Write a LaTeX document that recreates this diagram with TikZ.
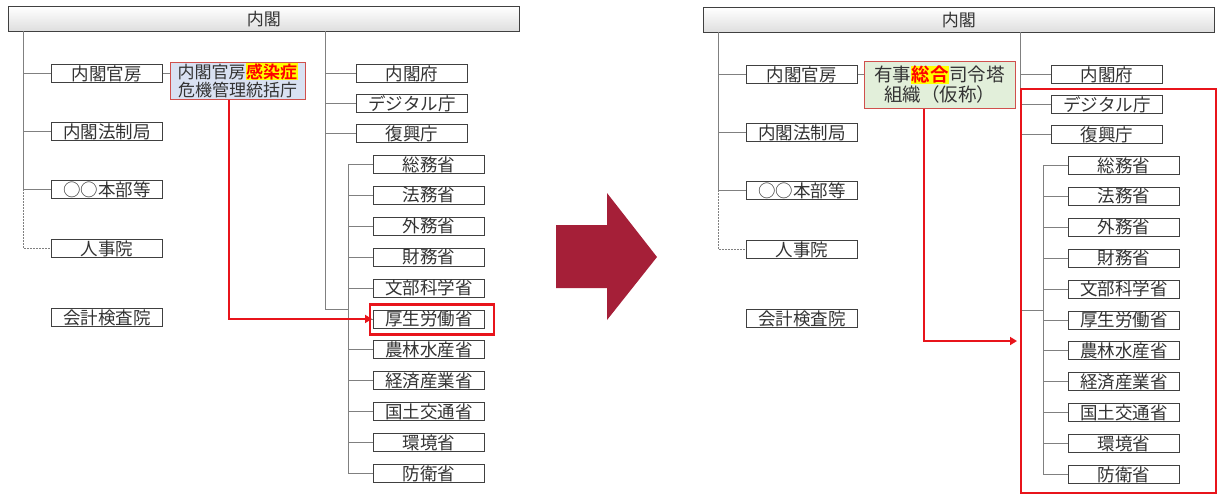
\documentclass[tikz,border=0pt]{standalone}
\usepackage{fontspec}
\setmainfont{Noto Sans CJK JP}[BoldFont={Noto Sans CJK JP Bold}]
\usetikzlibrary{arrows.meta}
\definecolor{boxline}{HTML}{404040}
\definecolor{connline}{HTML}{808080}
\definecolor{txt}{HTML}{333333}
\definecolor{bigarrow}{HTML}{A51F38}
\definecolor{hlred}{HTML}{FF0000}
\definecolor{hlyellow}{HTML}{FFFF00}
\definecolor{bluefill}{HTML}{D9E1F2}
\definecolor{greenfill}{HTML}{E2EFDA}
\definecolor{pinkline}{HTML}{D0504D}
\definecolor{redline}{HTML}{E8141B}
\newcommand{\hlword}[1]{{\setlength{\fboxsep}{0.5pt}\colorbox{hlyellow}{\textcolor{hlred}{\bfseries #1}}}}
\tikzset{
  orgbox/.style={draw=boxline, line width=0.9pt, fill=white, minimum width=111pt,
    minimum height=18pt, inner sep=0pt, text=txt, anchor=north west,
    font=\fontsize{17.5}{17.5}\selectfont},
  topbar/.style={draw=boxline, line width=0.9pt, top color=white, bottom color=black!13,
    minimum width=511pt, minimum height=25pt, inner sep=0pt, text=txt, anchor=north west,
    font=\fontsize{17}{17}\selectfont},
  conn/.style={draw=connline, line width=0.8pt},
  dotconn/.style={draw=connline, line width=0.8pt, dash pattern=on 1.5pt off 1.5pt},
  redarrow/.style={draw=redline, line width=2.5pt, -{Triangle[length=7pt,width=8pt]}},
  redhl/.style={draw=redline, line width=2.5pt},
  centerbox/.style={draw=pinkline, line width=1pt, inner sep=0pt, text=txt, align=center},
}
\newcommand{\orgchart}[1]{%
  \node[topbar] (#1top) at (8,6) {内閣};
  \node[orgbox] (#1kanbo) at (51,64) {内閣官房};
  \node[orgbox] (#1hosei) at (51,122) {内閣法制局};
  \node[orgbox] (#1honbu) at (51,180) {○○本部等};
  \node[orgbox] (#1jinji) at (51,239) {人事院};
  \node[orgbox] (#1kaikei) at (51,308) {会計検査院};
  \node[orgbox] (#1fu) at (356,64) {内閣府};
  \node[orgbox] (#1digital) at (356,94) {デジタル庁};
  \node[orgbox] (#1fukko) at (356,124) {復興庁};
  \foreach \n [count=\i from 0] in {総務省,法務省,外務省,財務省,文部科学省,厚生労働省,農林水産省,経済産業省,国土交通省,環境省,防衛省}
    {\node[orgbox] (#1m\i) at (373,{155+30.9*\i}) {\n};}
  \coordinate (#1tl) at (23,31);
  \draw[conn] (#1tl) -- (#1tl |- #1honbu.west) -- (#1honbu.west);
  \draw[conn] (#1tl |- #1kanbo.west) -- (#1kanbo.west);
  \draw[conn] (#1tl |- #1hosei.west) -- (#1hosei.west);
  \draw[dotconn] (#1tl |- #1honbu.west) -- (#1tl |- #1jinji.west) -- (#1jinji.west);
  \coordinate (#1tr) at (325,31);
  \coordinate (#1trb) at (325,309);
  \coordinate (#1mt) at (348,160);
  \draw[conn] (#1tr) -- (#1trb) -- (#1trb -| #1mt);
  \draw[conn] (#1tr |- #1fu.west) -- (#1fu.west);
  \draw[conn] (#1tr |- #1digital.west) -- (#1digital.west);
  \draw[conn] (#1tr |- #1fukko.west) -- (#1fukko.west);
  \draw[conn] (#1mt |- #1m0.west) -- (#1mt |- #1m10.west);
  \foreach \i in {0,...,10} {\draw[conn] (#1mt |- #1m\i.west) -- (#1m\i.west);}
}
\begin{document}
\begin{tikzpicture}[x=1pt,y=-1pt]
\useasboundingbox (0,0) rectangle (1220,496);
% left chart
\orgchart{L}
\node[centerbox, fill=bluefill, minimum width=135pt, minimum height=37pt,
  font=\fontsize{17}{18}\selectfont] (Lcrisis) at (237.5,80.5)
  {内閣官房\hlword{感染症}\\危機管理統括庁};
\draw[conn] (Lkanbo.east) -- (Lkanbo.east -| Lcrisis.west);
\draw[redhl] ([shift={(-3pt,5pt)}]Lm5.north west) rectangle ([shift={(9pt,-6pt)}]Lm5.south east);
\draw[redarrow] ([xshift=-8.5pt]Lcrisis.south) |- ([xshift=-1pt]Lm5.west);
% big arrow
\fill[bigarrow] (556,225) -- (607,225) -- (607,193) -- (657,257) -- (607,320) -- (607,288) -- (556,288) -- cycle;
% right chart
\begin{scope}[shift={(695,1)}]
\orgchart{R}
\end{scope}
\node[centerbox, fill=greenfill, minimum width=151pt, minimum height=47pt,
  font=\fontsize{18.5}{20}\selectfont] (Rgreen) at (939.5,84.5)
  {有事\hlword{総合}司令塔\\組織（仮称）};
\draw[conn] (Rkanbo.east) -- (Rkanbo.east -| Rgreen.west);
\draw[redhl] (1021,89) rectangle (1216,493);
\coordinate (Rarrowend) at (1017,341);
\draw[redarrow] ([xshift=-15.5pt]Rgreen.south) |- (Rarrowend);
\end{tikzpicture}
\end{document}
